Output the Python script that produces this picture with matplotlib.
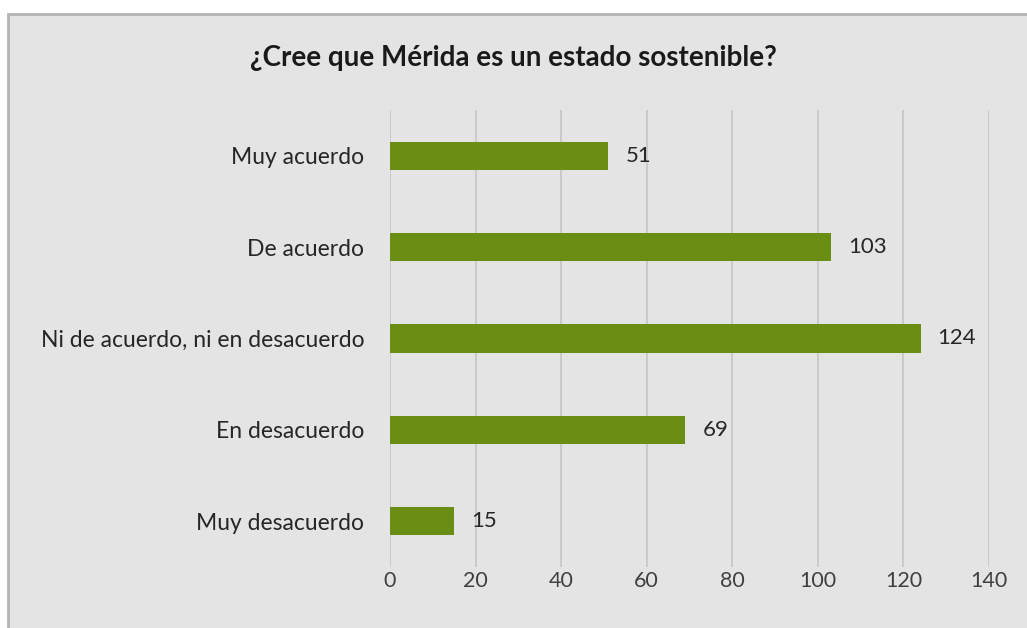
import matplotlib.pyplot as plt
from matplotlib.patches import Rectangle

plt.rcParams['font.family'] = ['Lato', 'DejaVu Sans']

categorias = ['Muy acuerdo', 'De acuerdo', 'Ni de acuerdo, ni en desacuerdo',
              'En desacuerdo', 'Muy desacuerdo']
respuestas = [51, 103, 124, 69, 15]
ticks_x = [0, 20, 40, 60, 80, 100, 120, 140]

W, H = 1027, 628
fig = plt.figure(figsize=(W / 100, H / 100), dpi=100)
fig.patch.set_facecolor('white')

# chart area panel with a gray frame on top and left
panel = Rectangle((8 / W, -0.05), 1.1, (H - 14) / H + 0.05,
                  transform=fig.transFigure, facecolor='#e4e4e4',
                  edgecolor='#b4b4b4', linewidth=2, zorder=-1)
fig.patches.append(panel)

ax = fig.add_axes([390 / W, (H - 567) / H, 599 / W, 457 / H])
ax.set_facecolor('none')

pos = list(range(len(categorias)))
ax.barh(pos, respuestas, height=0.31, color='#6a8e14', zorder=3)
ax.set_ylim(len(categorias) - 0.5, -0.5)
ax.set_xlim(0, 140)

ax.set_yticks(pos)
ax.set_yticklabels(categorias, fontsize=16.5, color='#262626')
ax.set_xticks(ticks_x)
ax.set_xticklabels([str(t) for t in ticks_x], fontsize=15.5, color='#404040')
ax.tick_params(axis='y', length=0, pad=18.5)
ax.tick_params(axis='x', length=0, pad=3)

ax.grid(axis='x', color='#c8c8c8', linewidth=1.3, zorder=1)
for s in ax.spines.values():
    s.set_visible(False)

for y, v in zip(pos, respuestas):
    ax.text(v + 4, y, str(v), va='center', ha='left', fontsize=16,
            color='#262626')

fig.text(513 / W, 1 - 58 / H, '¿Cree que Mérida es un estado sostenible?',
         ha='center', va='center', fontsize=20, fontweight='bold',
         color='#1a1a1a')

plt.savefig('out.png', dpi=100)
